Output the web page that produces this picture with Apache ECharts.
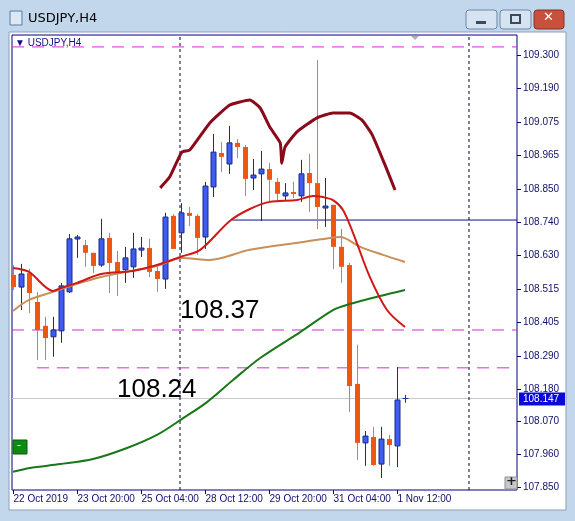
<!DOCTYPE html>
<html>
<head>
<meta charset="utf-8">
<script src="https://cdn.jsdelivr.net/npm/echarts@6/dist/echarts.min.js"></script>
<style>
  html, body { margin: 0; padding: 0; background: #c3d7ec; }
  #main { width: 575px; height: 521px; }
</style>
</head>
<body>
<div id="main"></div>
<script>
// H4 candles: [open, close, low, high]
var candles = [
  [108.562,108.521,108.511,108.595],[108.521,108.565,108.444,108.599],[108.568,108.501,108.434,108.582],
  [108.471,108.377,108.276,108.505],[108.391,108.350,108.276,108.421],[108.354,108.377,108.287,108.421],
  [108.374,108.525,108.334,108.535],[108.505,108.683,108.501,108.699],[108.683,108.689,108.619,108.696],
  [108.662,108.636,108.589,108.679],[108.636,108.592,108.568,108.636],[108.595,108.683,108.589,108.750],
  [108.686,108.602,108.501,108.703],[108.605,108.568,108.491,108.642],[108.579,108.619,108.535,108.656],
  [108.589,108.649,108.552,108.703],[108.646,108.652,108.622,108.689],[108.652,108.572,108.555,108.683],
  [108.575,108.548,108.505,108.589],[108.548,108.756,108.515,108.770],[108.760,108.649,108.649,108.766],
  [108.703,108.770,108.636,108.803],[108.770,108.760,108.726,108.790],[108.760,108.686,108.629,108.766],
  [108.689,108.860,108.649,108.874],[108.857,108.974,108.823,109.035],[108.971,108.958,108.907,109.008],
  [108.934,109.005,108.901,109.062],[109.005,108.991,108.954,109.018],[108.991,108.884,108.827,108.998],
  [108.887,108.897,108.847,108.951],[108.901,108.917,108.743,108.978],[108.917,108.881,108.807,108.938],
  [108.874,108.834,108.813,108.887],[108.827,108.837,108.813,108.870],[108.840,108.834,108.820,108.874],
  [108.827,108.901,108.807,108.948],[108.904,108.870,108.773,108.968],[108.870,108.790,108.716,109.283],
  [108.787,108.793,108.723,108.887],[108.797,108.656,108.582,108.797],[108.656,108.589,108.535,108.716],
  [108.595,108.189,108.102,108.602],[108.196,107.998,107.941,108.327],[107.998,108.021,107.921,108.038],
  [108.018,107.924,107.921,108.052],[107.927,108.011,107.880,108.052],[108.011,107.991,107.921,108.025],
  [107.988,108.142,107.917,108.253],[108.147,108.147,108.136,108.159]
];

// moving averages / envelope, [bar index, price]
var maFast = [[0,108.585],[2,108.572],[5,108.508],[6,108.518],[8,108.535],[11,108.565],[15,108.575],
  [18,108.595],[20.9,108.622],[23.4,108.646],[27.1,108.743],[29.6,108.783],[32.1,108.807],[35.5,108.813],
  [37.5,108.827],[38.75,108.823],[40,108.813],[41.25,108.780],[42.5,108.703],[44.6,108.555],[46.75,108.444],[49,108.387]];
var maMid = [[0,108.441],[2,108.478],[5,108.505],[8,108.532],[11,108.555],[14,108.572],[18,108.592],
  [21.1,108.619],[24.6,108.612],[29.6,108.646],[36.25,108.672],[39.6,108.686],[40.9,108.689],
  [43.4,108.656],[46.25,108.629],[49,108.605]];
var maSlow = [[0,107.901],[2.1,107.914],[5.9,107.927],[10,107.944],[14.25,107.981],[18,108.025],
  [21.1,108.078],[24.25,108.135],[27.5,108.209],[30.9,108.283],[35.9,108.370],[40,108.444],
  [42.1,108.464],[45.9,108.491],[49,108.511]];
var envelope = [[18.4,108.854],[19.6,108.891],[21.1,108.974],[22.1,108.981],[24.6,109.072],[27.1,109.132],
  [29.6,109.149],[30.9,109.122],[32.1,109.058],[33.4,109.005],[33.6,108.937],[34,108.991],[35.5,109.042],
  [38,109.089],[40,109.105],[42.1,109.105],[43.6,109.082],[44.9,109.032],[46.5,108.931],[47.75,108.847]];

// horizontal levels: [price, start index]
var dashLevels = [[109.327,-0.125],[108.377,-0.125],[108.250,3]];
var blueLevel = [108.746, 27.4];
var bidPrice = 108.147;
var vLines = [20.875, 57];

var yTicks = [109.300,109.190,109.075,108.965,108.850,108.740,108.630,108.515,108.405,108.290,108.180,108.070,107.960,107.850];
var xTickIdx = [0,8,16,24,32,40,48];
var xTickLabels = ['22 Oct 2019','23 Oct 20:00','25 Oct 04:00','28 Oct 12:00','29 Oct 20:00','31 Oct 04:00','1 Nov 12:00'];

var X_MIN = -0.125, X_MAX = 63, Y_MIN = 107.840, Y_MAX = 109.367;
var FONT = 'DejaVu Sans';
var AXFONT = '10px "Liberation Sans"';

var myChart = echarts.init(document.getElementById('main'));

var candleData = candles.map(function (c, i) { return [i, c[0], c[1], c[2], c[3]]; });

function lineSeries(data, color, width, smooth) {
  return { type: 'line', data: data, smooth: smooth, symbol: 'none', silent: true, z: 4,
    lineStyle: { color: color, width: width } };
}

var series = [
  // candles
  {
    type: 'custom', data: candleData, z: 3,
    renderItem: function (params, api) {
      var i = api.value(0), o = api.value(1), c = api.value(2);
      var lo = api.coord([i, api.value(3)]), hi = api.coord([i, api.value(4)]);
      var po = api.coord([i, o]), pc = api.coord([i, c]);
      var x = Math.round(lo[0]) + 0.5;
      var bull = c >= o;
      var top = Math.min(po[1], pc[1]), h = Math.max(Math.abs(po[1] - pc[1]), 2);
      if (i === candles.length - 1) {
        return { type: 'group', children: [
          { type: 'line', shape: { x1: x, y1: hi[1], x2: x, y2: lo[1] + 1 }, style: { stroke: '#1a2fb0', lineWidth: 1 } },
          { type: 'line', shape: { x1: x - 3, y1: pc[1], x2: x + 3, y2: pc[1] }, style: { stroke: '#1a2fb0', lineWidth: 1 } }
        ]};
      }
      return { type: 'group', children: [
        { type: 'line', shape: { x1: x, y1: hi[1], x2: x, y2: lo[1] },
          style: { stroke: bull ? '#1a2a90' : '#e8753a', lineWidth: 1 } },
        { type: 'rect', shape: { x: x - 2.5, y: top, width: 5, height: h },
          style: { fill: bull ? '#3f5cf0' : '#f25511', stroke: bull ? '#1a2a90' : null, lineWidth: 1 } }
      ]};
    }
  },
  lineSeries(maMid, '#c89058', 2, 0.3),
  lineSeries(maSlow, '#187818', 2, 0.3),
  lineSeries(maFast, '#d01818', 2, 0.3),
  lineSeries(envelope, '#8b0a1a', 3, 0.15)
];

dashLevels.forEach(function (l) {
  series.push({ type: 'line', data: [[l[1], l[0]], [X_MAX, l[0]]], symbol: 'none', silent: true, z: 2,
    lineStyle: { color: '#d42ad4', width: 1, type: [12, 8] } });
});
series.push({ type: 'line', data: [[blueLevel[1], blueLevel[0]], [X_MAX, blueLevel[0]]], symbol: 'none', silent: true, z: 2,
  lineStyle: { color: '#10108a', width: 1 } });
series.push({ type: 'line', data: [[X_MIN, bidPrice], [X_MAX, bidPrice]], symbol: 'none', silent: true, z: 1,
  lineStyle: { color: '#c8c8c8', width: 1 } });
vLines.forEach(function (v) {
  series.push({ type: 'line', data: [[v, Y_MIN], [v, Y_MAX]], symbol: 'none', silent: true, z: 1,
    lineStyle: { color: '#000040', width: 1, type: [3, 3] } });
});

// price scale (right)
series.push({
  type: 'custom', data: yTicks, clip: false, z: 5,
  renderItem: function (params, api) {
    var p = api.coord([X_MAX, api.value(0)]);
    var y = Math.round(p[1]) + 0.5;
    return { type: 'group', children: [
      { type: 'line', shape: { x1: p[0], y1: y, x2: p[0] + 4, y2: y }, style: { stroke: '#000080', lineWidth: 1 } },
      { type: 'text', x: p[0] + 6, y: y, style: { text: api.value(0).toFixed(3), fill: '#10106a',
        font: AXFONT, verticalAlign: 'middle' } }
    ]};
  }
});
// bid label
series.push({
  type: 'custom', data: [bidPrice], clip: false, z: 6,
  renderItem: function (params, api) {
    var p = api.coord([X_MAX, api.value(0)]);
    return { type: 'group', children: [
      { type: 'rect', shape: { x: p[0] + 2, y: p[1] - 6, width: 46, height: 13 }, style: { fill: '#0a0ad8' } },
      { type: 'text', x: p[0] + 6, y: p[1] + 0.5, style: { text: api.value(0).toFixed(3), fill: '#ffffff',
        font: AXFONT, verticalAlign: 'middle' } }
    ]};
  }
});
// time scale (bottom)
series.push({
  type: 'custom', data: xTickIdx.map(function (v, i) { return [v, i]; }), clip: false, z: 5,
  renderItem: function (params, api) {
    var p = api.coord([api.value(0), Y_MIN]);
    var x = Math.round(p[0]) + 0.5;
    return { type: 'group', children: [
      { type: 'line', shape: { x1: x, y1: p[1], x2: x, y2: p[1] + 4 }, style: { stroke: '#000080', lineWidth: 1 } },
      { type: 'text', x: x, y: p[1] + 9, style: { text: xTickLabels[api.value(1)], fill: '#10106a',
        font: AXFONT, verticalAlign: 'middle', align: 'left' } }
    ]};
  }
});

var option = {
  animation: false,
  grid: { left: 12, right: 58, top: 35, bottom: 31, show: true, borderColor: '#000080', borderWidth: 1, backgroundColor: '#fff' },
  xAxis: { type: 'value', min: X_MIN, max: X_MAX, show: false },
  yAxis: { type: 'value', min: Y_MIN, max: Y_MAX, show: false, scale: true },
  graphic: [
    // window client area
    { type: 'rect', z: -10, shape: { x: 9, y: 32, width: 557, height: 478 }, style: { fill: '#ffffff', stroke: '#8aa0b8', lineWidth: 1 } },
    // title bar
    { type: 'rect', z: -10, shape: { x: 10, y: 11, width: 12, height: 14 }, style: { fill: '#dce8f4', stroke: '#5a7aa0' } },
    { type: 'text', left: 28, top: 12, style: { text: 'USDJPY,H4', font: '13px ' + FONT, fill: '#000' } },
    { type: 'rect', shape: { x: 466, y: 10, width: 31, height: 19, r: 3 }, style: { fill: '#d6e4f2', stroke: '#6c86a6' } },
    { type: 'rect', shape: { x: 476, y: 21, width: 10, height: 3 }, style: { fill: '#3a4a60' } },
    { type: 'rect', shape: { x: 500, y: 10, width: 31, height: 19, r: 3 }, style: { fill: '#d6e4f2', stroke: '#6c86a6' } },
    { type: 'rect', shape: { x: 511, y: 15, width: 9, height: 8 }, style: { fill: 'none', stroke: '#3a4a60', lineWidth: 2 } },
    { type: 'rect', shape: { x: 534, y: 10, width: 30, height: 19, r: 3 }, style: { fill: '#c9503c', stroke: '#8a3020' } },
    { type: 'text', left: 543, top: 11, style: { text: '✕', font: 'bold 13px ' + FONT, fill: '#fff' } },
    // chart annotations
    { type: 'text', left: 15, top: 38, z: 10, style: { text: '▼ USDJPY,H4', font: AXFONT, fill: '#10108a' } },
    { type: 'text', left: 180, top: 298, z: 10, style: { text: '108.37', font: '26px "Liberation Sans"', fill: '#000' } },
    { type: 'text', left: 117, top: 377, z: 10, style: { text: '108.24', font: '26px "Liberation Sans"', fill: '#000' } },
    { type: 'rect', z: 10, shape: { x: 13, y: 440, width: 14, height: 14 }, style: { fill: '#108a10', stroke: '#0a5a0a' } },
    { type: 'text', z: 11, left: 17, top: 440, style: { text: '-', font: '11px ' + FONT, fill: '#fff' } },
    { type: 'polygon', z: 10, shape: { points: [[411, 36], [419, 36], [415, 40]] }, style: { fill: '#b0b0b8' } },
    { type: 'rect', z: 10, shape: { x: 505, y: 477, width: 12, height: 12 }, style: { fill: '#c8c8c8', stroke: '#909090' } },
    { type: 'text', z: 11, left: 506, top: 475, style: { text: '+', font: 'bold 13px ' + FONT, fill: '#202020' } }
  ],
  series: series
};

myChart.setOption(option);
window.addEventListener('resize', function () { myChart.resize(); });
</script>
</body>
</html>
